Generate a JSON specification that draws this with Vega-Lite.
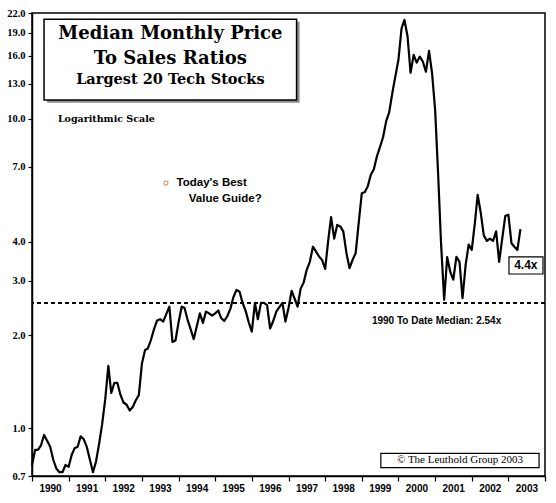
{
  "$schema": "https://vega.github.io/schema/vega-lite/v6.json",
  "width": 513,
  "height": 463,
  "autosize": {"type": "none"},
  "padding": {"left": 32, "top": 13, "right": 11, "bottom": 27},
  "background": "white",
  "config": {"view": {"stroke": "black", "strokeWidth": 1.5}, "axis": {"grid": false}},
  "layer": [
    {
      "data": {"values": [{}]},
      "mark": {"type": "rect", "fill": "#8c8c8c", "stroke": null},
      "encoding": {
        "x": {"datum": {"year": 1990, "month": 6, "date": 1, "utc": true}, "type": "temporal"},
        "x2": {"datum": {"year": 1997, "month": 4, "date": 21, "utc": true}},
        "y": {"datum": 20.6, "type": "quantitative"},
        "y2": {"datum": 11.28}
      }
    },
    {
      "data": {"values": [{}]},
      "mark": {"type": "rect", "fill": "white", "stroke": "black", "strokeWidth": 1.5},
      "encoding": {
        "x": {"datum": {"year": 1990, "month": 5, "date": 1, "utc": true}, "type": "temporal"},
        "x2": {"datum": {"year": 1997, "month": 3, "date": 22, "utc": true}},
        "y": {"datum": 21.0, "type": "quantitative"},
        "y2": {"datum": 11.5}
      }
    },
    {
      "data": {"values": [{}]},
      "mark": {"type": "text", "font": "DejaVu Serif", "fontWeight": "bold", "fontSize": 18, "align": "center", "baseline": "middle", "color": "black", "text": "Median Monthly Price"},
      "encoding": {
        "x": {"datum": {"year": 1993, "month": 10, "date": 11, "utc": true}, "type": "temporal"},
        "y": {"datum": 18.8, "type": "quantitative"}
      }
    },
    {
      "data": {"values": [{}]},
      "mark": {"type": "text", "font": "DejaVu Serif", "fontWeight": "bold", "fontSize": 18, "align": "center", "baseline": "middle", "color": "black", "text": "To Sales Ratios"},
      "encoding": {
        "x": {"datum": {"year": 1993, "month": 10, "date": 11, "utc": true}, "type": "temporal"},
        "y": {"datum": 15.6, "type": "quantitative"}
      }
    },
    {
      "data": {"values": [{}]},
      "mark": {"type": "text", "font": "DejaVu Serif", "fontWeight": "bold", "fontSize": 14.5, "align": "center", "baseline": "middle", "color": "black", "text": "Largest 20 Tech Stocks"},
      "encoding": {
        "x": {"datum": {"year": 1993, "month": 10, "date": 11, "utc": true}, "type": "temporal"},
        "y": {"datum": 13.4, "type": "quantitative"}
      }
    },
    {
      "data": {"values": [{}]},
      "mark": {"type": "text", "font": "DejaVu Serif", "fontWeight": "bold", "fontSize": 9.5, "align": "left", "baseline": "middle", "color": "black", "text": "Logarithmic Scale"},
      "encoding": {
        "x": {"datum": {"year": 1990, "month": 9, "date": 16, "utc": true}, "type": "temporal"},
        "y": {"datum": 10.0, "type": "quantitative"}
      }
    },
    {
      "data": {"values": [{}]},
      "mark": {"type": "point", "shape": "square", "size": 14, "filled": false, "stroke": "#b06a20", "strokeWidth": 1},
      "encoding": {
        "x": {"datum": {"year": 1993, "month": 8, "date": 28, "utc": true}, "type": "temporal"},
        "y": {"datum": 6.2, "type": "quantitative"}
      }
    },
    {
      "data": {"values": [{}]},
      "mark": {"type": "text", "font": "Liberation Sans", "fontWeight": "bold", "fontSize": 11.5, "align": "left", "baseline": "middle", "color": "black", "text": "Today's Best"},
      "encoding": {
        "x": {"datum": {"year": 1993, "month": 12, "date": 12, "utc": true}, "type": "temporal"},
        "y": {"datum": 6.21, "type": "quantitative"}
      }
    },
    {
      "data": {"values": [{}]},
      "mark": {"type": "text", "font": "Liberation Sans", "fontWeight": "bold", "fontSize": 11.5, "align": "left", "baseline": "middle", "color": "black", "text": "Value Guide?"},
      "encoding": {
        "x": {"datum": {"year": 1994, "month": 4, "date": 13, "utc": true}, "type": "temporal"},
        "y": {"datum": 5.51, "type": "quantitative"}
      }
    },
    {
      "data": {"values": [{}]},
      "mark": {"type": "rule", "strokeDash": [4, 3], "strokeWidth": 2, "color": "black"},
      "encoding": {"y": {"datum": 2.54, "type": "quantitative"}}
    },
    {
      "data": {"values": [{}]},
      "mark": {"type": "text", "font": "Liberation Sans", "fontWeight": "bold", "fontSize": 10, "align": "left", "baseline": "middle", "color": "black", "text": "1990 To Date Median: 2.54x"},
      "encoding": {
        "x": {"datum": {"year": 1999, "month": 4, "date": 12, "utc": true}, "type": "temporal"},
        "y": {"datum": 2.22, "type": "quantitative"}
      }
    },
    {
      "data": {
        "values": [
          {"date": "1990-01-01", "pts": 0.76}, {"date": "1990-02-01", "pts": 0.85}, {"date": "1990-03-01", "pts": 0.85}, {"date": "1990-04-01", "pts": 0.88},
          {"date": "1990-05-01", "pts": 0.95}, {"date": "1990-06-01", "pts": 0.91}, {"date": "1990-07-01", "pts": 0.87}, {"date": "1990-08-01", "pts": 0.79},
          {"date": "1990-09-01", "pts": 0.74}, {"date": "1990-10-01", "pts": 0.72}, {"date": "1990-11-01", "pts": 0.72}, {"date": "1990-12-01", "pts": 0.76},
          {"date": "1991-01-01", "pts": 0.75}, {"date": "1991-02-01", "pts": 0.82}, {"date": "1991-03-01", "pts": 0.86}, {"date": "1991-04-01", "pts": 0.87},
          {"date": "1991-05-01", "pts": 0.94}, {"date": "1991-06-01", "pts": 0.92}, {"date": "1991-07-01", "pts": 0.87}, {"date": "1991-08-01", "pts": 0.79},
          {"date": "1991-09-01", "pts": 0.72}, {"date": "1991-10-01", "pts": 0.78}, {"date": "1991-11-01", "pts": 0.89}, {"date": "1991-12-01", "pts": 1.03},
          {"date": "1992-01-01", "pts": 1.24}, {"date": "1992-02-01", "pts": 1.59}, {"date": "1992-03-01", "pts": 1.30}, {"date": "1992-04-01", "pts": 1.40},
          {"date": "1992-05-01", "pts": 1.40}, {"date": "1992-06-01", "pts": 1.28}, {"date": "1992-07-01", "pts": 1.21}, {"date": "1992-08-01", "pts": 1.19},
          {"date": "1992-09-01", "pts": 1.14}, {"date": "1992-10-01", "pts": 1.17}, {"date": "1992-11-01", "pts": 1.23}, {"date": "1992-12-01", "pts": 1.28},
          {"date": "1993-01-01", "pts": 1.62}, {"date": "1993-02-01", "pts": 1.79}, {"date": "1993-03-01", "pts": 1.81}, {"date": "1993-04-01", "pts": 1.93},
          {"date": "1993-05-01", "pts": 2.09}, {"date": "1993-06-01", "pts": 2.23}, {"date": "1993-07-01", "pts": 2.25}, {"date": "1993-08-01", "pts": 2.21},
          {"date": "1993-09-01", "pts": 2.34}, {"date": "1993-10-01", "pts": 2.47}, {"date": "1993-11-01", "pts": 1.90}, {"date": "1993-12-01", "pts": 1.92},
          {"date": "1994-01-01", "pts": 2.20}, {"date": "1994-02-01", "pts": 2.47}, {"date": "1994-03-01", "pts": 2.45}, {"date": "1994-04-01", "pts": 2.24},
          {"date": "1994-05-01", "pts": 2.09}, {"date": "1994-06-01", "pts": 1.94}, {"date": "1994-07-01", "pts": 2.13}, {"date": "1994-08-01", "pts": 2.35},
          {"date": "1994-09-01", "pts": 2.19}, {"date": "1994-10-01", "pts": 2.38}, {"date": "1994-11-01", "pts": 2.35}, {"date": "1994-12-01", "pts": 2.31},
          {"date": "1995-01-01", "pts": 2.35}, {"date": "1995-02-01", "pts": 2.40}, {"date": "1995-03-01", "pts": 2.27}, {"date": "1995-04-01", "pts": 2.22},
          {"date": "1995-05-01", "pts": 2.30}, {"date": "1995-06-01", "pts": 2.43}, {"date": "1995-07-01", "pts": 2.65}, {"date": "1995-08-01", "pts": 2.80},
          {"date": "1995-09-01", "pts": 2.76}, {"date": "1995-10-01", "pts": 2.54}, {"date": "1995-11-01", "pts": 2.39}, {"date": "1995-12-01", "pts": 2.20},
          {"date": "1996-01-01", "pts": 2.05}, {"date": "1996-02-01", "pts": 2.54}, {"date": "1996-03-01", "pts": 2.25}, {"date": "1996-04-01", "pts": 2.54},
          {"date": "1996-05-01", "pts": 2.54}, {"date": "1996-06-01", "pts": 2.50}, {"date": "1996-07-01", "pts": 2.10}, {"date": "1996-08-01", "pts": 2.22},
          {"date": "1996-09-01", "pts": 2.38}, {"date": "1996-10-01", "pts": 2.46}, {"date": "1996-11-01", "pts": 2.54}, {"date": "1996-12-01", "pts": 2.21},
          {"date": "1997-01-01", "pts": 2.45}, {"date": "1997-02-01", "pts": 2.78}, {"date": "1997-03-01", "pts": 2.63}, {"date": "1997-04-01", "pts": 2.47},
          {"date": "1997-05-01", "pts": 2.82}, {"date": "1997-06-01", "pts": 2.96}, {"date": "1997-07-01", "pts": 3.25}, {"date": "1997-08-01", "pts": 3.45},
          {"date": "1997-09-01", "pts": 3.86}, {"date": "1997-10-01", "pts": 3.73}, {"date": "1997-11-01", "pts": 3.59}, {"date": "1997-12-01", "pts": 3.50},
          {"date": "1998-01-01", "pts": 3.27}, {"date": "1998-02-01", "pts": 4.06}, {"date": "1998-03-01", "pts": 4.81}, {"date": "1998-04-01", "pts": 4.10},
          {"date": "1998-05-01", "pts": 4.54}, {"date": "1998-06-01", "pts": 4.49}, {"date": "1998-07-01", "pts": 4.32}, {"date": "1998-08-01", "pts": 3.68},
          {"date": "1998-09-01", "pts": 3.29}, {"date": "1998-10-01", "pts": 3.50}, {"date": "1998-11-01", "pts": 3.68}, {"date": "1998-12-01", "pts": 4.60},
          {"date": "1999-01-01", "pts": 5.75}, {"date": "1999-02-01", "pts": 5.80}, {"date": "1999-03-01", "pts": 6.05}, {"date": "1999-04-01", "pts": 6.60},
          {"date": "1999-05-01", "pts": 6.87}, {"date": "1999-06-01", "pts": 7.57}, {"date": "1999-07-01", "pts": 8.10}, {"date": "1999-08-01", "pts": 8.72},
          {"date": "1999-09-01", "pts": 9.83}, {"date": "1999-10-01", "pts": 10.5}, {"date": "1999-11-01", "pts": 12.1}, {"date": "1999-12-01", "pts": 13.7},
          {"date": "2000-01-01", "pts": 15.5}, {"date": "2000-02-01", "pts": 19.6}, {"date": "2000-03-01", "pts": 20.9}, {"date": "2000-04-01", "pts": 18.5},
          {"date": "2000-05-01", "pts": 14.1}, {"date": "2000-06-01", "pts": 16.1}, {"date": "2000-07-01", "pts": 15.2}, {"date": "2000-08-01", "pts": 15.9},
          {"date": "2000-09-01", "pts": 15.3}, {"date": "2000-10-01", "pts": 14.2}, {"date": "2000-11-01", "pts": 16.6}, {"date": "2000-12-01", "pts": 14.1},
          {"date": "2001-01-01", "pts": 10.7}, {"date": "2001-02-01", "pts": 6.5}, {"date": "2001-03-01", "pts": 3.96}, {"date": "2001-04-01", "pts": 2.60},
          {"date": "2001-05-01", "pts": 3.57}, {"date": "2001-06-01", "pts": 3.20}, {"date": "2001-07-01", "pts": 3.02}, {"date": "2001-08-01", "pts": 3.58},
          {"date": "2001-09-01", "pts": 3.45}, {"date": "2001-10-01", "pts": 2.63}, {"date": "2001-11-01", "pts": 3.37}, {"date": "2001-12-01", "pts": 3.92},
          {"date": "2002-01-01", "pts": 3.77}, {"date": "2002-02-01", "pts": 4.60}, {"date": "2002-03-01", "pts": 5.68}, {"date": "2002-04-01", "pts": 4.96},
          {"date": "2002-05-01", "pts": 4.20}, {"date": "2002-06-01", "pts": 4.03}, {"date": "2002-07-01", "pts": 4.10}, {"date": "2002-08-01", "pts": 4.03},
          {"date": "2002-09-01", "pts": 4.33}, {"date": "2002-10-01", "pts": 3.45}, {"date": "2002-11-01", "pts": 4.11}, {"date": "2002-12-01", "pts": 4.85},
          {"date": "2003-01-01", "pts": 4.90}, {"date": "2003-02-01", "pts": 3.96}, {"date": "2003-03-01", "pts": 3.86}, {"date": "2003-04-01", "pts": 3.77},
          {"date": "2003-05-01", "pts": 4.40}
        ]
      },
      "mark": {"type": "line", "color": "black", "strokeWidth": 2.2, "strokeJoin": "round"},
      "encoding": {
        "x": {
          "field": "date", "type": "temporal",
          "scale": {"type": "utc", "domain": [{"year": 1990, "month": 1, "date": 1, "utc": true}, {"year": 2004, "month": 1, "date": 1, "utc": true}]},
          "axis": {
            "title": null,
            "tickCount": {"interval": "year", "step": 1},
            "labelExpr": "utcFormat(datum.value, '%Y') == '2004' ? '' : utcFormat(datum.value, '%Y')",
            "labelOffset": 18,
            "labelAlign": "center",
            "labelFlush": false,
            "labelOverlap": false,
            "labelBound": false,
            "labelSeparation": 0,
            "labelFont": "Liberation Sans",
            "labelFontWeight": "bold",
            "labelFontSize": 10,
            "labelColor": "black",
            "labelPadding": 2,
            "tickSize": 5,
            "tickColor": "black",
            "tickWidth": 1.2,
            "domainColor": "black",
            "domainWidth": 1.5
          }
        },
        "y": {
          "field": "pts", "type": "quantitative",
          "scale": {"type": "log", "domain": [0.7, 22], "nice": false},
          "axis": {
            "title": null,
            "values": [0.7, 1, 2, 3, 4, 7, 10, 13, 16, 19, 22],
            "format": ".1f",
            "labelOverlap": false,
            "labelFont": "Liberation Serif",
            "labelFontWeight": "bold",
            "labelFontSize": 10.5,
            "labelColor": "black",
            "labelPadding": 3,
            "tickSize": 4,
            "tickColor": "black",
            "tickWidth": 1.2,
            "domainColor": "black",
            "domainWidth": 1.5
          }
        }
      }
    },
    {
      "data": {"values": [{}]},
      "mark": {"type": "rect", "fill": "white", "stroke": "black", "strokeWidth": 1.2},
      "encoding": {
        "x": {"datum": {"year": 2003, "month": 1, "date": 7, "utc": true}, "type": "temporal"},
        "x2": {"datum": {"year": 2003, "month": 12, "date": 12, "utc": true}},
        "y": {"datum": 3.58, "type": "quantitative"},
        "y2": {"datum": 3.15}
      }
    },
    {
      "data": {"values": [{}]},
      "mark": {"type": "text", "font": "Liberation Sans", "fontWeight": "bold", "fontSize": 12, "align": "center", "baseline": "middle", "color": "black", "text": "4.4x"},
      "encoding": {
        "x": {"datum": {"year": 2003, "month": 6, "date": 24, "utc": true}, "type": "temporal"},
        "y": {"datum": 3.36, "type": "quantitative"}
      }
    },
    {
      "data": {"values": [{}]},
      "mark": {"type": "rect", "fill": "white", "stroke": "black", "strokeWidth": 1.2},
      "encoding": {
        "x": {"datum": {"year": 1999, "month": 7, "date": 10, "utc": true}, "type": "temporal"},
        "x2": {"datum": {"year": 2003, "month": 11, "date": 3, "utc": true}},
        "y": {"datum": 0.829, "type": "quantitative"},
        "y2": {"datum": 0.745}
      }
    },
    {
      "data": {"values": [{}]},
      "mark": {"type": "text", "font": "Liberation Serif", "fontSize": 11, "align": "center", "baseline": "middle", "color": "black", "text": "© The Leuthold Group 2003"},
      "encoding": {
        "x": {"datum": {"year": 2001, "month": 9, "date": 6, "utc": true}, "type": "temporal"},
        "y": {"datum": 0.786, "type": "quantitative"}
      }
    }
  ]
}
